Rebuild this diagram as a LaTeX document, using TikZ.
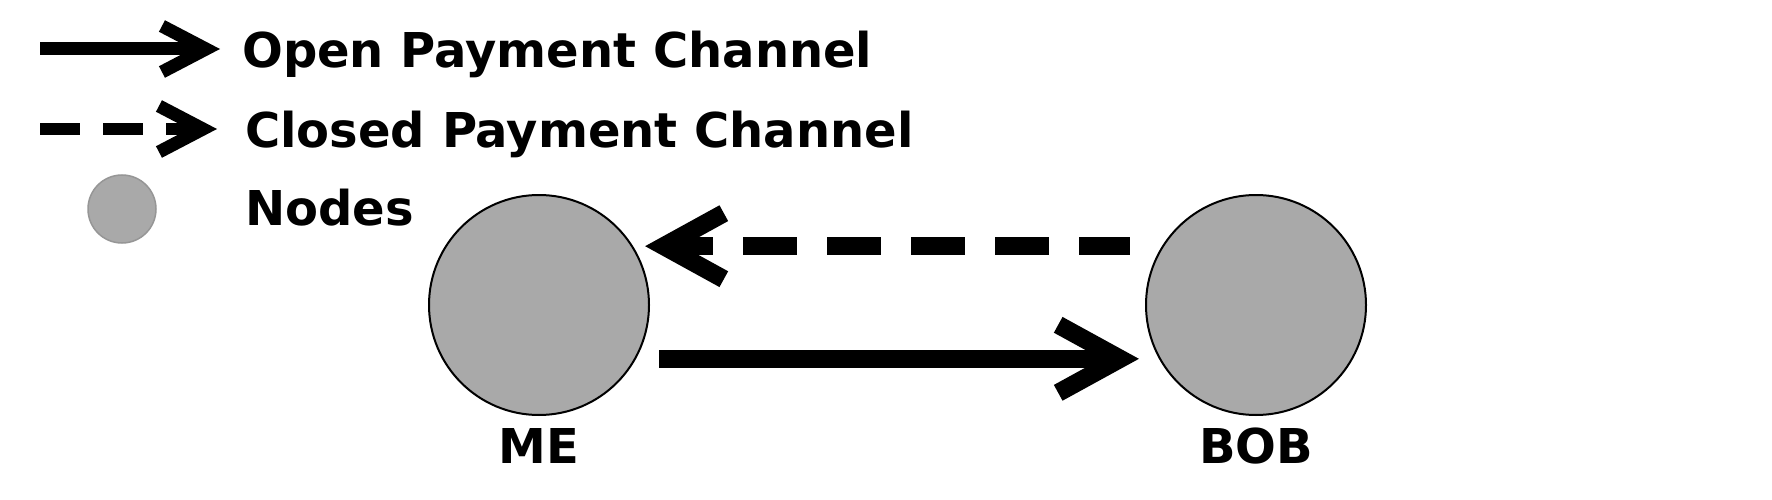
\documentclass[tikz,border=0pt]{standalone}
\usepackage{fontspec}
\setmainfont{DejaVu Sans}
\usetikzlibrary{arrows.meta, positioning}
\definecolor{nodegray}{RGB}{169,169,169}
\definecolor{keyrim}{RGB}{150,150,150}

\begin{document}
\begin{tikzpicture}[x=1pt, y=-1pt,
  peer/.style={circle, draw=black, line width=2pt, fill=nodegray, minimum size=220pt, inner sep=0pt},
  keypeer/.style={circle, draw=keyrim, line width=1.5pt, fill=nodegray, minimum size=68pt, inner sep=0pt},
  keytext/.style={font=\fontsize{48}{56}\selectfont\bfseries, inner sep=0pt, anchor=base west},
  peername/.style={font=\fontsize{48}{56}\selectfont\bfseries, inner sep=0pt},
  chevron/.style n args={3}{-{Straight Barb[length=#1, width=#2, line width=#3, line cap=butt]}},
  opench/.style={line width=18pt, chevron={62pt}{68pt}{18pt}},
  closedch/.style={line width=18pt, dash pattern=on 54pt off 30pt, dash phase=3pt, chevron={60pt}{66pt}{18pt}},
  keyopen/.style={line width=13pt, chevron={44pt}{46pt}{13pt}},
  keyclosed/.style={line width=12pt, dash pattern=on 40pt off 23pt, chevron={44pt}{46pt}{13pt}}]
  \fill[white] (0,0) rectangle (1772,500);
  \useasboundingbox (0,0) rectangle (1772,500);
  \coordinate (openfrom) at (40,49);
  \coordinate (opento) at (220,49);
  \coordinate (closedfrom) at (40,129);
  \coordinate (closedto) at (217,129);
  \node[keytext] (opentxt) at (242,68) {Open Payment Channel};
  \node[keytext] (closedtxt) at (245,147) {Closed Payment Channel};
  \node[keypeer] (keynode) at (122,209) {};
  \node[keytext] (nodestxt) at (245,225) {Nodes};
  \draw[keyopen] (openfrom) -- (opento);
  \draw[keyclosed] (closedfrom) -- (closedto);
  \node[peer] (me) at (539,305) {};
  \node[peer] (bob) at (1256,305) {};
  \node[peername, below=12pt of me] (melabel) {ME};
  \node[peername, below=12pt of bob] (boblabel) {BOB};
  \draw[closedch] ([xshift=-32pt]bob.148) -- ([xshift=12pt]me.32);
  \draw[opench] ([xshift=23pt]me.-29) -- ([xshift=-20pt]bob.209);
\end{tikzpicture}
\end{document}
